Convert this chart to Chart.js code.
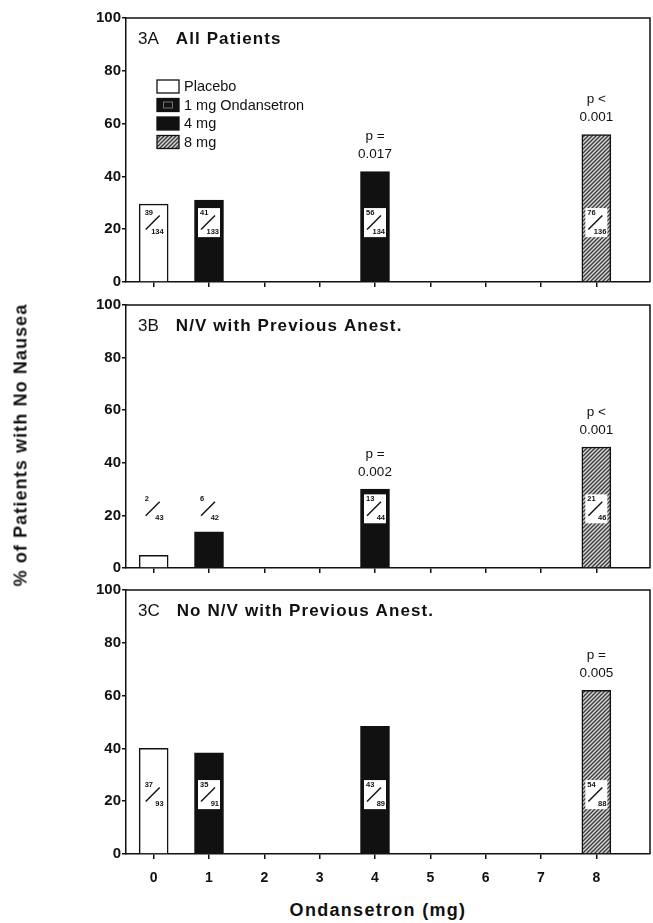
<!DOCTYPE html>
<html>
<head>
<meta charset="utf-8">
<title>Ondansetron - % of Patients with No Nausea</title>
<script src="https://cdn.jsdelivr.net/npm/chart.js@4.4.1/dist/chart.umd.min.js"></script>
<style>
  html, body { margin: 0; padding: 0; background: #fff; }
  #wrap { position: relative; width: 653px; height: 923px; overflow: hidden;
          font-family: 'Liberation Sans', Arial, Helvetica, sans-serif; color: #111; }
  #wrap canvas { position: absolute; left: 0; }
  #yTitle { position: absolute; left: 21px; top: 445px; white-space: nowrap;
            transform: translate(-50%, -50%) rotate(-90deg);
            font-weight: bold; font-size: 18px; letter-spacing: 1.1px; }
  #xTitle { position: absolute; left: 378px; top: 910px; white-space: nowrap;
            transform: translate(-50%, -50%);
            font-weight: bold; font-size: 18px; letter-spacing: 1.3px; }
</style>
</head>
<body>
<div id="wrap">
  <canvas id="chartA" width="653" height="300" style="top:0px"></canvas>
  <canvas id="chartB" width="653" height="299" style="top:287px"></canvas>
  <canvas id="chartC" width="653" height="322" style="top:572px"></canvas>
  <div id="yTitle">% of Patients with No Nausea</div>
  <div id="xTitle">Ondansetron (mg)</div>
</div>

<script>
// ---- Data ----
const doses = [0, 1, 4, 8];
const groupNames = ['Placebo', '1 mg Ondansetron', '4 mg', '8 mg'];
const xTickValues = [0, 1, 2, 3, 4, 5, 6, 7, 8];
const xTickLabels = ['0', '1', '2', '3', '4', '5', '6', '7', '8'];
const yTickValues = [0, 20, 40, 60, 80, 100];

// 3A All Patients
const allPatients = [29.5, 31, 41.8, 55.8];
const allPatientsFrac = [['39', '134'], ['41', '133'], ['56', '134'], ['76', '136']];
const allPatientsP = [null, null, ['p =', '0.017'], ['p <', '0.001']];

// 3B N/V with Previous Anest.
const nvPrevious = [4.8, 13.8, 30, 46];
const nvPreviousFrac = [['2', '43'], ['6', '42'], ['13', '44'], ['21', '46']];
const nvPreviousP = [null, null, ['p =', '0.002'], ['p <', '0.001']];

// 3C No N/V with Previous Anest.
const noNvPrevious = [40, 38.3, 48.4, 62];
const noNvPreviousFrac = [['37', '93'], ['35', '91'], ['43', '89'], ['54', '88']];
const noNvPreviousP = [null, null, null, ['p =', '0.005']];

const FONT = "'Liberation Sans', Arial, Helvetica, sans-serif";
const INK = '#111111';

// hatched fill for 8 mg
function makeHatch() {
  const c = document.createElement('canvas');
  c.width = 4; c.height = 4;
  const g = c.getContext('2d');
  g.fillStyle = '#d4d4d4';
  g.fillRect(0, 0, 4, 4);
  g.strokeStyle = '#3a3a3a';
  g.lineWidth = 1.3;
  g.beginPath();
  g.moveTo(-1, 5); g.lineTo(5, -1);
  g.moveTo(-1, 1); g.lineTo(1, -1);
  g.moveTo(3, 5); g.lineTo(5, 3);
  g.stroke();
  return c;
}
const hatchCanvas = makeHatch();

// box (frame) around the plot: top + right lines
const framePlugin = {
  id: 'frame',
  beforeDatasetsDraw(chart) {
    const a = chart.chartArea, ctx = chart.ctx;
    ctx.save();
    ctx.strokeStyle = INK;
    ctx.lineWidth = 1.5;
    ctx.beginPath();
    ctx.moveTo(a.left, a.top);
    ctx.lineTo(a.right, a.top);
    ctx.lineTo(a.right, a.bottom);
    ctx.stroke();
    ctx.restore();
  }
};

// panel title, legend, fraction boxes, p values
const notesPlugin = {
  id: 'notes',
  afterDatasetsDraw(chart, args, opts) {
    const ctx = chart.ctx, a = chart.chartArea;
    const yS = chart.scales.y;
    const meta = chart.getDatasetMeta(0);
    ctx.save();

    // title: "3A  All Patients"
    ctx.textBaseline = 'middle';
    ctx.textAlign = 'left';
    ctx.fillStyle = INK;
    ctx.font = '17px ' + FONT;
    const ty = a.top + 21;
    ctx.fillText(opts.num, a.left + 12, ty);
    const numW = ctx.measureText(opts.num).width;
    ctx.font = 'bold 17px ' + FONT;
    if ('letterSpacing' in ctx) ctx.letterSpacing = '1.1px';
    ctx.fillText(opts.title, a.left + 12 + numW + 17, ty);
    if ('letterSpacing' in ctx) ctx.letterSpacing = '0px';

    // legend (panel A only)
    if (opts.legend) {
      const lx = a.left + 31;
      groupNames.forEach((name, i) => {
        const ly = a.top + 62 + i * 18.5;
        ctx.fillStyle = i === 0 ? '#fff' : (i === 3 ? ctx.createPattern(hatchCanvas, 'repeat') : INK);
        ctx.fillRect(lx, ly, 22, 13);
        if (i === 1) {
          ctx.strokeStyle = '#777';
          ctx.lineWidth = 1;
          ctx.strokeRect(lx + 6.5, ly + 3.5, 9, 6);
        }
        ctx.strokeStyle = INK;
        ctx.lineWidth = 1.3;
        ctx.strokeRect(lx, ly, 22, 13);
        ctx.fillStyle = INK;
        ctx.font = '14.5px ' + FONT;
        ctx.textAlign = 'left';
        ctx.fillText(name, lx + 27, ly + 7);
      });
    }

    // fractions and p values on each bar
    meta.data.forEach((bar, i) => {
      const half = bar.width / 2;
      const left = bar.x - half + 3.5, right = bar.x + half - 3.5;
      const top = yS.getPixelForValue(28), bottom = yS.getPixelForValue(17);
      const barTop = bar.y;
      if (barTop < bottom) {
        ctx.fillStyle = '#fff';
        ctx.fillRect(left, Math.max(top, barTop + 2), right - left, bottom - Math.max(top, barTop + 2));
      }
      const fr = opts.frac[i];
      ctx.fillStyle = INK;
      ctx.font = 'bold 7.5px ' + FONT;
      ctx.textAlign = 'left';
      ctx.fillText(fr[0], left + 2, top + 5);
      ctx.textAlign = 'right';
      ctx.fillText(fr[1], right - 1, bottom - 5);
      const cx = (left + right) / 2, cy = (top + bottom) / 2;
      ctx.strokeStyle = INK;
      ctx.lineWidth = 1.4;
      ctx.beginPath();
      ctx.moveTo(cx - 8, cy + 7);
      ctx.lineTo(cx + 6, cy - 7);
      ctx.stroke();

      const p = opts.pvals[i];
      if (p) {
        ctx.textAlign = 'center';
        ctx.font = '13.5px ' + FONT;
        ctx.fillText(p[0], bar.x, barTop - 35);
        ctx.fillText(p[1], bar.x, barTop - 17);
      }
    });
    ctx.restore();
  }
};

function drawPanel(canvasId, values, frac, pvals, num, title, showLegend, showXLabels, xAxisHeight) {
  const hatch = document.getElementById(canvasId).getContext('2d').createPattern(hatchCanvas, 'repeat');
  const fills = ['#ffffff', INK, INK, hatch];
  return new Chart(document.getElementById(canvasId), {
    type: 'bar',
    data: {
      datasets: [{
        data: doses.map((d, i) => ({ x: d, y: values[i] })),
        backgroundColor: fills,
        borderColor: INK,
        borderWidth: 1.5,
        barThickness: 29
      }]
    },
    options: {
      responsive: false,
      animation: false,
      events: [],
      layout: { padding: { top: 18, right: 3, left: 0, bottom: 0 } },
      plugins: {
        legend: { display: false },
        tooltip: { enabled: false },
        notes: { num: num, title: title, legend: showLegend, frac: frac, pvals: pvals }
      },
      scales: {
        x: {
          type: 'linear',
          min: -0.5,
          max: 8.97,
          offset: false,
          afterBuildTicks: s => { s.ticks = xTickValues.map(v => ({ value: v })); },
          afterFit: s => { s.height = xAxisHeight; },
          grid: { offset: false, drawOnChartArea: false, drawTicks: true, tickLength: 5, color: INK, lineWidth: 1.5 },
          border: { display: true, color: INK, width: 1.5 },
          ticks: {
            display: showXLabels,
            padding: 11,
            color: INK,
            font: { family: FONT, size: 14, weight: 'bold' },
            callback: v => xTickLabels[xTickValues.indexOf(v)]
          }
        },
        y: {
          min: 0,
          max: 100,
          afterBuildTicks: s => { s.ticks = yTickValues.map(v => ({ value: v })); },
          afterFit: s => { s.width = 126; },
          grid: { drawOnChartArea: false, drawTicks: true, tickLength: 4, color: INK, lineWidth: 1.5 },
          border: { display: true, color: INK, width: 1.5 },
          ticks: {
            padding: 1,
            color: INK,
            font: { family: FONT, size: 15, weight: 'bold' }
          }
        }
      }
    },
    plugins: [framePlugin, notesPlugin]
  });
}

drawPanel('chartA', allPatients, allPatientsFrac, allPatientsP, '3A', 'All Patients', true, false, 18);
drawPanel('chartB', nvPrevious, nvPreviousFrac, nvPreviousP, '3B', 'N/V with Previous Anest.', false, false, 18);
drawPanel('chartC', noNvPrevious, noNvPreviousFrac, noNvPreviousP, '3C', 'No N/V with Previous Anest.', false, true, 40);
</script>
</body>
</html>
